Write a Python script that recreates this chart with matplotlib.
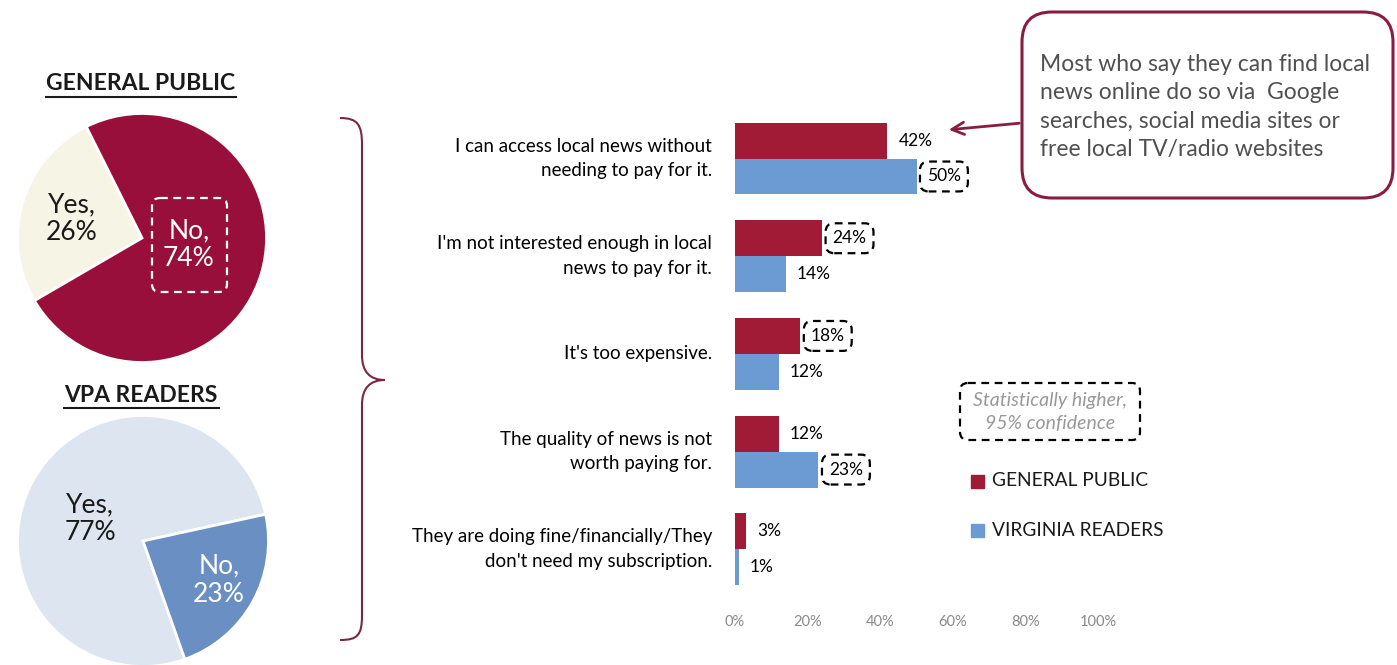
import numpy as np
import matplotlib
matplotlib.use('Agg')
import matplotlib.pyplot as plt
from matplotlib.patches import FancyBboxPatch, Rectangle, PathPatch
from matplotlib.path import Path

plt.rcParams['font.family'] = ['Lato', 'DejaVu Sans']

# pie data: would they pay for local news?
gp_pie_labels = ['Yes,\n26%', 'No,\n74%']
gp_pie_values = [26, 74]
vpa_pie_labels = ['Yes,\n77%', 'No,\n23%']
vpa_pie_values = [77, 23]

# reasons for not paying
reasons = ['I can access local news without\nneeding to pay for it.',
           "I'm not interested enough in local\nnews to pay for it.",
           "It's too expensive.",
           'The quality of news is not\nworth paying for.',
           'They are doing fine/financially/They\ndon\'t need my subscription.']
general_public = [42, 24, 18, 12, 3]
virginia_readers = [50, 14, 12, 23, 1]
# which labels carry the "statistically higher" box
gp_higher = [False, True, True, False, False]
vr_higher = [True, False, False, True, False]
xticks = [0, 20, 40, 60, 80, 100]

RED = '#a11a36'
BLUE = '#6b9bd2'
PIE_RED = '#970f3a'
PIE_CREAM = '#f6f4e4'
PIE_LIGHTBLUE = '#dde6f0'
PIE_BLUE = '#6a8fc3'
BRACE = '#7b2744'

W, H = 1397, 665
fig = plt.figure(figsize=(W / 100, H / 100), dpi=100)


def px_axes(x0, y0, x1, y1):
    return fig.add_axes([x0 / W, 1 - y1 / H, (x1 - x0) / W, (y1 - y0) / H])


# --- pies ---
ax_gp = px_axes(142 - 127, 238 - 127, 142 + 127, 238 + 127)
ax_gp.pie(gp_pie_values, colors=[PIE_CREAM, PIE_RED], startangle=116.6,
          counterclock=True, radius=1,
          wedgeprops=dict(edgecolor='white', linewidth=2))
ax_gp.set_xlim(-1.02, 1.02)
ax_gp.set_ylim(-1.02, 1.02)
ax_gp.axis('off')

ax_vpa = px_axes(143 - 128, 541 - 128, 143 + 128, 541 + 128)
ax_vpa.pie(vpa_pie_values, colors=[PIE_LIGHTBLUE, PIE_BLUE], startangle=12.3,
           counterclock=True, radius=1,
           wedgeprops=dict(edgecolor='white', linewidth=2))
ax_vpa.set_xlim(-1.02, 1.02)
ax_vpa.set_ylim(-1.02, 1.02)
ax_vpa.axis('off')

# --- bar chart ---
ax = px_axes(735, 100, 1098, 600)
y = np.arange(len(reasons))
bh = 0.368
ax.barh(y - bh / 2, general_public, height=bh, color=RED)
ax.barh(y + bh / 2, virginia_readers, height=bh, color=BLUE)
ax.set_xlim(0, 100)
ax.set_ylim(4.519, -0.599)
ax.set_xticks(xticks)
ax.set_xticklabels(['%d%%' % t for t in xticks], color='#8a8a8a', fontsize=10.5)
ax.tick_params(axis='x', length=0, pad=11)
ax.set_yticks([])
for s in ax.spines.values():
    s.set_visible(False)
ax.patch.set_alpha(0)

box_kw = dict(boxstyle='round,pad=0.4,rounding_size=0.5', fc='none', ec='black',
              lw=1.6, ls=(0, (3.5, 2.5)))
for i, (vals, hi, off) in enumerate([(general_public, gp_higher, -bh / 2),
                                      (virginia_readers, vr_higher, bh / 2)]):
    for j, v in enumerate(vals):
        if hi[j]:
            ax.annotate('%d%%' % v, (v, j + off), xytext=(7.5, 0), textcoords='offset points',
                        va='center', ha='left', fontsize=12.5, bbox=box_kw)
        else:
            ax.annotate('%d%%' % v, (v, j + off), xytext=(8, 0), textcoords='offset points',
                        va='center', ha='left', fontsize=12.5)

for j, r in enumerate(reasons):
    ax.annotate(r, (0, j), xytext=(-16.5, 0), textcoords='offset points',
                ha='right', va='center', fontsize=13.5, linespacing=1.55)

# --- overlay for annotations in pixel coordinates ---
ov = fig.add_axes([0, 0, 1, 1], zorder=5)
ov.set_xlim(0, W)
ov.set_ylim(H, 0)
ov.axis('off')
ov.patch.set_alpha(0)

# titles
ov.text(141, 84, 'GENERAL PUBLIC', ha='center', va='center', fontsize=16.5,
        fontweight='bold', color='#1a1a1a')
ov.plot([46, 236], [97, 97], color='#1a1a1a', lw=1.5)
ov.text(141, 395, 'VPA READERS', ha='center', va='center', fontsize=16.5,
        fontweight='bold', color='#1a1a1a')
ov.plot([64, 219], [408, 408], color='#1a1a1a', lw=1.5)

# pie labels
ov.text(72, 219, gp_pie_labels[0], ha='center', va='center', fontsize=19,
        color='#1a1a1a', linespacing=1.15)
ov.text(189, 245, gp_pie_labels[1], ha='center', va='center', fontsize=19,
        color='white', linespacing=1.15)
ov.add_patch(FancyBboxPatch((152, 198), 75, 94,
                            boxstyle='round,pad=0,rounding_size=8', fc='none',
                            ec='white', lw=1.6, ls=(0, (3.5, 2.5))))
ov.text(90, 519, vpa_pie_labels[0], ha='center', va='center', fontsize=19,
        color='#1a1a1a', linespacing=1.15)
ov.text(219, 580, vpa_pie_labels[1], ha='center', va='center', fontsize=19,
        color='white', linespacing=1.15)

# curly brace joining the pies to the bars
verts = [(340, 118), (358, 118), (362, 125), (362, 145),
         (362, 355),
         (362, 372), (370, 380), (385, 380),
         (370, 380), (362, 388), (362, 405),
         (362, 615),
         (362, 635), (358, 640), (340, 640)]
codes = [Path.MOVETO, Path.CURVE4, Path.CURVE4, Path.CURVE4,
         Path.LINETO,
         Path.CURVE4, Path.CURVE4, Path.CURVE4,
         Path.CURVE4, Path.CURVE4, Path.CURVE4,
         Path.LINETO,
         Path.CURVE4, Path.CURVE4, Path.CURVE4]
ov.add_patch(PathPatch(Path(verts, codes), fc='none', ec=BRACE, lw=1.5))

# callout
ov.add_patch(FancyBboxPatch((1022, 12), 371, 186,
                            boxstyle='round,pad=0,rounding_size=30', fc='white',
                            ec='#8a1c40', lw=2.2))
ov.text(1040, 107, 'Most who say they can find local\nnews online do so via  Google\n'
        'searches, social media sites or\nfree local TV/radio websites',
        ha='left', va='center', fontsize=16.5, color='#505050', linespacing=1.45)
ov.annotate('', xy=(946, 130), xytext=(1022, 123),
            arrowprops=dict(arrowstyle='->', color='#8a1c40', lw=2, mutation_scale=22))

# significance key
ov.add_patch(FancyBboxPatch((960, 383), 180, 57,
                            boxstyle='round,pad=0,rounding_size=8', fc='none',
                            ec='black', lw=1.6, ls=(0, (3.5, 2.5))))
ov.text(1050, 412, 'Statistically higher,\n95% confidence', ha='center', va='center',
        fontsize=14, style='italic', color='#999999', linespacing=1.4)

# legend
ov.add_patch(Rectangle((971, 475), 13, 13, color=RED))
ov.text(992, 481, 'GENERAL PUBLIC', ha='left', va='center', fontsize=13.8, color='#1a1a1a')
ov.add_patch(Rectangle((971, 524), 13, 13, color=BLUE))
ov.text(992, 530, 'VIRGINIA READERS', ha='left', va='center', fontsize=13.8, color='#1a1a1a')

fig.savefig('out.png', dpi=100, facecolor='white')
